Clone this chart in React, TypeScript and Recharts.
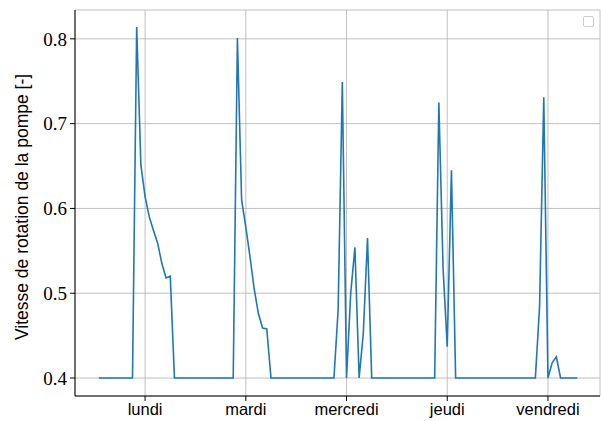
import React from 'react';
import { LineChart, Line, XAxis, YAxis, CartesianGrid } from 'recharts';

// hour index (1..115) and pump speed, read hour by hour off the plot
const hours = [
  1, 2, 3, 4, 5, 6, 7, 8, 9, 10, 11, 12, 13, 14, 15, 16, 17, 18, 19, 20, 21, 22, 23, 24,
  25, 26, 27, 28, 29, 30, 31, 32, 33, 34, 35, 36, 37, 38, 39, 40, 41, 42, 43, 44, 45, 46, 47, 48,
  49, 50, 51, 52, 53, 54, 55, 56, 57, 58, 59, 60, 61, 62, 63, 64, 65, 66, 67, 68, 69, 70, 71, 72,
  73, 74, 75, 76, 77, 78, 79, 80, 81, 82, 83, 84, 85, 86, 87, 88, 89, 90, 91, 92, 93, 94, 95, 96,
  97, 98, 99, 100, 101, 102, 103, 104, 105, 106, 107, 108, 109, 110, 111, 112, 113, 114, 115,
];

const speed = [
  // lundi
  0.4, 0.4, 0.4, 0.4, 0.4, 0.4, 0.4, 0.4, 0.4, 0.814, 0.651, 0.614, 0.59, 0.574, 0.559, 0.535, 0.518, 0.52, 0.4, 0.4, 0.4, 0.4, 0.4, 0.4,
  // mardi
  0.4, 0.4, 0.4, 0.4, 0.4, 0.4, 0.4, 0.4, 0.4, 0.801, 0.61, 0.578, 0.543, 0.505, 0.476, 0.459, 0.458, 0.4, 0.4, 0.4, 0.4, 0.4, 0.4, 0.4,
  // mercredi
  0.4, 0.4, 0.4, 0.4, 0.4, 0.4, 0.4, 0.4, 0.4, 0.48, 0.749, 0.4, 0.5, 0.554, 0.4, 0.453, 0.565, 0.4, 0.4, 0.4, 0.4, 0.4, 0.4, 0.4,
  // jeudi
  0.4, 0.4, 0.4, 0.4, 0.4, 0.4, 0.4, 0.4, 0.4, 0.725, 0.53, 0.437, 0.645, 0.4, 0.4, 0.4, 0.4, 0.4, 0.4, 0.4, 0.4, 0.4, 0.4, 0.4,
  // vendredi
  0.4, 0.4, 0.4, 0.4, 0.4, 0.4, 0.4, 0.4, 0.4, 0.484, 0.731, 0.4, 0.418, 0.425, 0.4, 0.4, 0.4, 0.4, 0.4,
];

const dayTicks = [12, 36, 60, 84, 108];
const dayLabels = ['lundi', 'mardi', 'mercredi', 'jeudi', 'vendredi'];
const yTicks = [0.4, 0.5, 0.6, 0.7, 0.8];

const data = hours.map((h, i) => ({ h, v: speed[i] }));

const YTitle = () => (
  <text
    x={22}
    y={207}
    transform="rotate(-90, 22, 207)"
    textAnchor="middle"
    dominantBaseline="central"
    fill="#000"
    fontFamily="Liberation Sans"
    fontSize={17.5}
  >
    Vitesse de rotation de la pompe [-]
  </text>
);

export default function App() {
  return (
    <div style={{ position: 'absolute', left: 0, top: 0, width: 601, height: 421, background: '#fff' }}>
      <LineChart width={601} height={421} data={data} margin={{ top: 10, right: 1, bottom: 0, left: 10 }}>
        <CartesianGrid stroke="#b0b0b0" strokeWidth={0.8} />
        <XAxis
          dataKey="h"
          type="number"
          domain={[-4.7, 120.4]}
          ticks={dayTicks}
          tickFormatter={(t: number) => dayLabels[dayTicks.indexOf(t)] ?? ''}
          height={25}
          stroke="#000"
          tickSize={5}
          tickMargin={2}
          tick={{ fill: '#000', fontFamily: 'Liberation Sans', fontSize: 16.5 }}
          allowDataOverflow
        />
        <XAxis
          xAxisId="top"
          orientation="top"
          dataKey="h"
          type="number"
          domain={[-4.7, 120.4]}
          height={0}
          tick={false}
          tickLine={false}
          stroke="#000"
        />
        <YAxis
          type="number"
          domain={[0.3788, 0.834]}
          ticks={yTicks}
          tickFormatter={(t: number) => t.toFixed(1)}
          width={65}
          stroke="#000"
          tickSize={5}
          tickMargin={3}
          tick={{ fill: '#000', fontFamily: 'Liberation Serif', fontSize: 19 }}
          allowDataOverflow
          label={{ content: () => <YTitle /> }}
        />
        <YAxis
          yAxisId="right"
          orientation="right"
          domain={[0.3788, 0.834]}
          width={0}
          tick={false}
          tickLine={false}
          stroke="#000"
        />
        <Line
          type="linear"
          dataKey="v"
          stroke="#1f77b4"
          strokeWidth={1.6}
          dot={false}
          isAnimationActive={false}
        />
      </LineChart>
      {/* empty legend box, as matplotlib draws it with no labelled artists */}
      <div
        style={{
          position: 'absolute',
          left: 583,
          top: 16,
          width: 9,
          height: 9,
          border: '1px solid #cccccc',
          borderRadius: 2,
          background: '#fff',
        }}
      />
    </div>
  );
}
